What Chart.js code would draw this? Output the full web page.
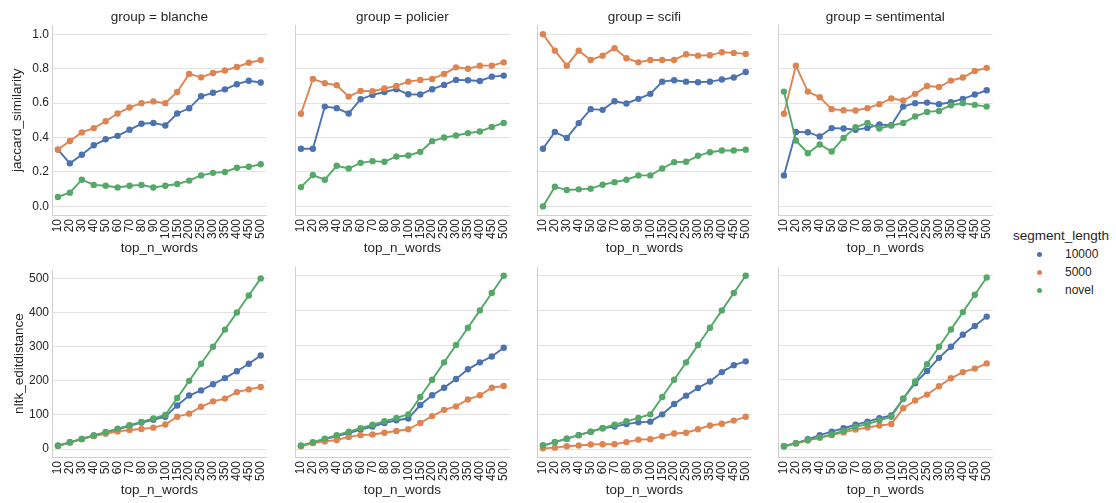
<!DOCTYPE html>
<html>
<head>
<meta charset="utf-8">
<script src="https://cdn.jsdelivr.net/npm/chart.js@4.4.0/dist/chart.umd.min.js"></script>
<style>
  body { margin: 0; background: #fff; }
  #wrap { position: relative; width: 1116px; height: 503px; overflow: hidden; background: #fff;
          font-family: "Liberation Sans", Arial, sans-serif; color: #262626; }
  #wrap canvas { position: absolute; }
  #legend { position: absolute; left: 1013px; top: 227px; }
  #legend .ttl { font-size: 13.5px; line-height: 18px; }
  #legend .item { position: relative; height: 18px; line-height: 18px; font-size: 12px; }
  #legend .dot { position: absolute; left: 24px; top: 7px; width: 5px; height: 5px; border-radius: 50%; }
  #legend .lbl { position: absolute; left: 52px; }
</style>
</head>
<body>
<div id="wrap"><div id="legend"></div></div>
<script>
const topN = ["10", "20", "30", "40", "50", "60", "70", "80", "90", "100", "150", "200", "250", "300", "350", "400", "450", "500"];
const groups = ["blanche", "policier", "scifi", "sentimental"];
const segments = ["10000", "5000", "novel"];
const colors = ["#4c72b0", "#dd8452", "#55a868"];

const jaccardTicks = [0, 0.2, 0.4, 0.6, 0.8, 1.0];
const editTicks = [0, 100, 200, 300, 400, 500];

// jaccard_similarity, one array per group / segment_length
const jacBlanche10000 = [0.33, 0.25, 0.30, 0.355, 0.39, 0.41, 0.445, 0.48, 0.485, 0.47, 0.54, 0.57, 0.64, 0.66, 0.68, 0.71, 0.73, 0.72];
const jacBlanche5000 = [0.33, 0.38, 0.43, 0.455, 0.495, 0.54, 0.575, 0.60, 0.61, 0.60, 0.665, 0.77, 0.75, 0.775, 0.79, 0.81, 0.835, 0.85];
const jacBlancheNovel = [0.055, 0.08, 0.155, 0.125, 0.12, 0.11, 0.12, 0.125, 0.11, 0.12, 0.13, 0.15, 0.18, 0.195, 0.20, 0.225, 0.23, 0.245];

const jacPolicier10000 = [0.335, 0.335, 0.58, 0.571, 0.54, 0.623, 0.648, 0.665, 0.681, 0.652, 0.65, 0.681, 0.706, 0.735, 0.733, 0.729, 0.754, 0.76];
const jacPolicier5000 = [0.538, 0.741, 0.716, 0.704, 0.638, 0.671, 0.669, 0.685, 0.70, 0.725, 0.735, 0.741, 0.77, 0.808, 0.80, 0.818, 0.818, 0.837];
const jacPolicierNovel = [0.112, 0.182, 0.155, 0.236, 0.22, 0.253, 0.263, 0.259, 0.29, 0.296, 0.317, 0.379, 0.40, 0.412, 0.426, 0.435, 0.462, 0.485];

const jacScifi10000 = [0.335, 0.433, 0.398, 0.484, 0.565, 0.561, 0.611, 0.598, 0.625, 0.654, 0.725, 0.733, 0.725, 0.721, 0.725, 0.737, 0.749, 0.781];
const jacScifi5000 = [1.0, 0.905, 0.818, 0.905, 0.851, 0.876, 0.919, 0.861, 0.837, 0.851, 0.851, 0.851, 0.884, 0.876, 0.878, 0.896, 0.892, 0.886];
const jacScifiNovel = [0.0, 0.114, 0.095, 0.099, 0.103, 0.126, 0.141, 0.155, 0.18, 0.18, 0.22, 0.257, 0.259, 0.294, 0.315, 0.325, 0.325, 0.329];

const jacSentimental10000 = [0.18, 0.433, 0.431, 0.406, 0.455, 0.453, 0.445, 0.456, 0.476, 0.472, 0.58, 0.60, 0.603, 0.594, 0.605, 0.625, 0.65, 0.675];
const jacSentimental5000 = [0.538, 0.818, 0.667, 0.634, 0.565, 0.559, 0.557, 0.571, 0.594, 0.627, 0.615, 0.654, 0.70, 0.694, 0.731, 0.749, 0.787, 0.805];
const jacSentimentalNovel = [0.667, 0.383, 0.309, 0.36, 0.319, 0.398, 0.46, 0.485, 0.453, 0.47, 0.485, 0.522, 0.549, 0.555, 0.588, 0.60, 0.59, 0.58];

// nltk_editdistance
const editBlanche10000 = [10, 20, 30, 40, 48, 57, 68, 78, 86, 95, 128, 157, 172, 190, 208, 228, 250, 274];
const editBlanche5000 = [10, 19, 29, 38, 45, 52, 56, 59, 63, 72, 95, 104, 124, 140, 148, 167, 175, 182];
const editBlancheNovel = [10, 20, 30, 40, 50, 60, 70, 80, 90, 100, 150, 200, 250, 300, 350, 400, 450, 500];

const editPolicier10000 = [9, 18, 28, 37, 46, 56, 65, 75, 83, 88, 127, 155, 177, 202, 230, 250, 267, 292];
const editPolicier5000 = [8, 17, 22, 26, 35, 40, 42, 47, 52, 57, 75, 95, 113, 123, 143, 155, 177, 182];
const editPolicierNovel = [10, 20, 30, 40, 50, 60, 70, 80, 90, 100, 150, 200, 250, 300, 350, 400, 450, 500];

const editScifi10000 = [10, 20, 30, 40, 50, 60, 65, 72, 77, 79, 100, 130, 154, 176, 195, 222, 242, 253];
const editScifi5000 = [2, 4, 8, 10, 13, 14, 14, 20, 27, 28, 37, 45, 47, 57, 68, 73, 82, 93];
const editScifiNovel = [10, 20, 30, 40, 50, 60, 70, 80, 90, 100, 150, 200, 250, 300, 350, 400, 450, 500];

const editSentimental10000 = [8, 17, 28, 40, 50, 60, 70, 79, 89, 97, 145, 190, 225, 263, 295, 330, 355, 382];
const editSentimental5000 = [8, 16, 25, 33, 40, 48, 56, 62, 68, 72, 118, 140, 157, 181, 204, 222, 232, 247];
const editSentimentalNovel = [8, 17, 25, 33, 42, 52, 64, 72, 83, 93, 145, 195, 245, 295, 345, 395, 445, 495];

const jaccard = {
  blanche: [jacBlanche10000, jacBlanche5000, jacBlancheNovel],
  policier: [jacPolicier10000, jacPolicier5000, jacPolicierNovel],
  scifi: [jacScifi10000, jacScifi5000, jacScifiNovel],
  sentimental: [jacSentimental10000, jacSentimental5000, jacSentimentalNovel]
};
const editdist = {
  blanche: [editBlanche10000, editBlanche5000, editBlancheNovel],
  policier: [editPolicier10000, editPolicier5000, editPolicierNovel],
  scifi: [editScifi10000, editScifi5000, editScifiNovel],
  sentimental: [editSentimental10000, editSentimental5000, editSentimentalNovel]
};

Chart.defaults.font.family = '"Liberation Sans", Arial, sans-serif';
Chart.defaults.color = "#262626";

const colLeft = [52, 295, 537, 778];
const plotW = 221;
const yAxisW = 52;
const padRight = 4;

const rows = [
  { top: 0, height: 257, padTop: 0, showTitle: true, yLabel: "jaccard_similarity", data: jaccard,
    ticks: jaccardTicks, min: -0.05, max: 1.05, fmt: v => v.toFixed(1), yTitlePad: 9 },
  { top: 260, height: 239, padTop: 7.4, showTitle: false, yLabel: "nltk_editdistance", data: editdist,
    ticks: editTicks, min: -23, max: 524, fmt: v => String(v), yTitlePad: 11 }
];

const wrap = document.getElementById("wrap");

function buildPanel(row, col) {
  const group = groups[col];
  const canvas = document.createElement("canvas");
  const w = yAxisW + plotW + padRight;
  canvas.width = w;
  canvas.height = row.height;
  canvas.style.left = (colLeft[col] - yAxisW) + "px";
  canvas.style.top = row.top + "px";
  canvas.style.width = w + "px";
  canvas.style.height = row.height + "px";
  wrap.appendChild(canvas);

  const series = row.data[group];
  new Chart(canvas, {
    type: "line",
    data: {
      labels: topN,
      datasets: segments.map((s, i) => ({
        label: s,
        data: series[i],
        borderColor: colors[i],
        backgroundColor: colors[i],
        borderWidth: 1.9,
        pointRadius: 3.2,
        pointBorderWidth: 0,
        tension: 0,
        fill: false,
        order: segments.length - i
      }))
    },
    options: {
      responsive: false,
      animation: false,
      devicePixelRatio: 1,
      layout: { padding: { top: row.padTop, bottom: 0, left: 0, right: padRight } },
      plugins: {
        legend: { display: false },
        tooltip: { enabled: false },
        title: {
          display: row.showTitle,
          text: "group = " + group,
          fullSize: false,
          color: "#262626",
          font: { size: 13.5, weight: "normal", lineHeight: 1.2 },
          padding: { top: 9, bottom: 0.5 }
        }
      },
      scales: {
        x: {
          type: "category",
          offset: true,
          grid: { display: true, color: "rgba(0,0,0,0)", drawTicks: false },
          border: { display: true, color: "#d0d0d0", width: 1 },
          ticks: { autoSkip: false, maxRotation: 90, minRotation: 90, padding: 4,
                   font: { size: 12, lineHeight: 1 }, color: "#262626" },
          title: { display: true, text: "top_n_words", color: "#262626",
                   font: { size: 13.5, lineHeight: 1.2 }, padding: { top: 0, bottom: 0.5 } },
          afterFit: axis => { axis.height = 42; }
        },
        y: {
          min: row.min,
          max: row.max,
          grid: { color: "#e2e2e2", lineWidth: 1, drawTicks: false },
          border: { display: true, color: "#d0d0d0", width: 1 },
          ticks: { display: col === 0, padding: 3, font: { size: 12 }, color: "#262626",
                   callback: v => row.fmt(v) },
          title: { display: col === 0, text: row.yLabel, color: "#262626",
                   font: { size: 13.5, lineHeight: 1.2 }, padding: { top: row.yTitlePad, bottom: 0 } },
          afterBuildTicks: axis => { axis.ticks = row.ticks.map(v => ({ value: v })); },
          afterFit: axis => { axis.width = yAxisW; }
        }
      }
    }
  });
}

rows.forEach(row => groups.forEach((g, c) => buildPanel(row, c)));

// legend
const legend = document.getElementById("legend");
legend.innerHTML = '<div class="ttl">segment_length</div>' + segments.map((s, i) =>
  `<div class="item"><span class="dot" style="background:${colors[i]}"></span><span class="lbl">${s}</span></div>`
).join("");
</script>
</body>
</html>
